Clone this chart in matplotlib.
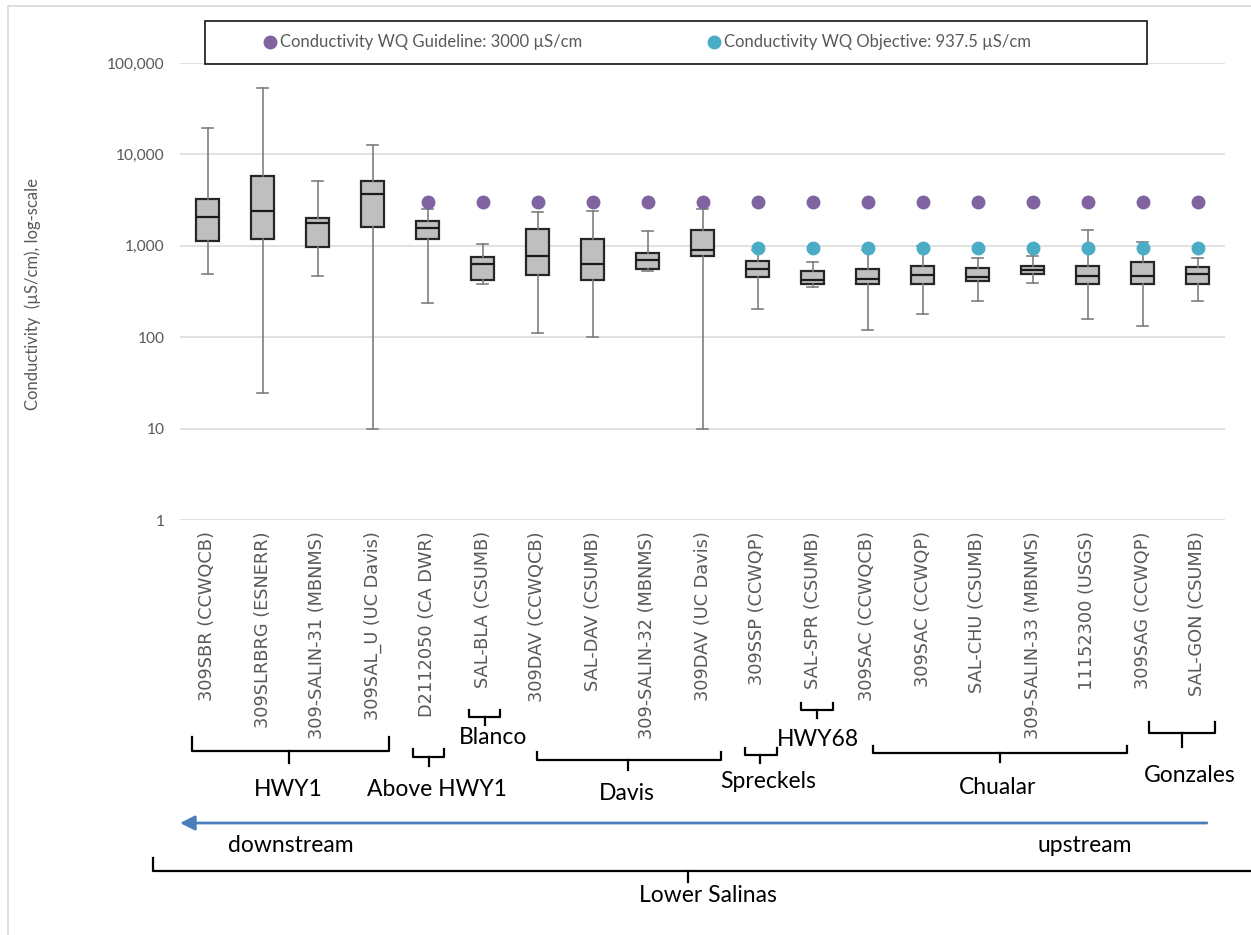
"""Lower Salinas conductivity box plots by monitoring site (log scale)."""

import matplotlib
matplotlib.use("Agg")
import matplotlib.pyplot as plt
import matplotlib.transforms as mtransforms
from matplotlib.lines import Line2D
from matplotlib.patches import Rectangle
import numpy as np

W, H = 1251, 935

SITES = [
    "309SBR (CCWQCB)", "309SLRBRG (ESNERR)", "309-SALIN-31 (MBNMS)", "309SAL_U (UC Davis)",
    "D2112050 (CA DWR)", "SAL-BLA (CSUMB)", "309DAV (CCWQCB)", "SAL-DAV (CSUMB)",
    "309-SALIN-32 (MBNMS)", "309DAV (UC Davis)", "309SSP (CCWQP)", "SAL-SPR (CSUMB)",
    "309SAC (CCWQCB)", "309SAC (CCWQP)", "SAL-CHU (CSUMB)", "309-SALIN-33 (MBNMS)",
    "11152300 (USGS)", "309SAG (CCWQP)", "SAL-GON (CSUMB)",
]
WHISKER_LOW = [496, 24.4, 467, 10, 234, 380, 110, 100, 530, 10,
               205, 354, 119, 178, 247, 388, 157, 131, 247]
Q1 = [1125, 1174, 967, 1618, 1194, 425, 479, 426, 563, 776,
      450, 385, 385, 385, 412, 490, 385, 385, 385]
MEDIAN = [2070, 2410, 1776, 3700, 1578, 634, 783, 634, 701, 911,
          560, 419, 436, 478, 455, 547, 467, 463, 490]
Q3 = [3240, 5750, 2000, 5100, 1885, 757, 1525, 1194, 837, 1487,
      690, 533, 552, 595, 570, 605, 605, 658, 590]
WHISKER_HIGH = [19600, 53000, 5100, 12700, 2530, 1052, 2350, 2410, 1438, 2550,
                900, 658, 900, 1000, 735, 776, 1488, 1088, 738]

NAN = np.nan
GUIDELINE = [NAN, NAN, NAN, NAN, 3000, 3000, 3000, 3000, 3000, 3000,
             3000, 3000, 3000, 3000, 3000, 3000, 3000, 3000, 3000]
OBJECTIVE = [NAN, NAN, NAN, NAN, NAN, NAN, NAN, NAN, NAN, NAN,
             937.5, 937.5, 937.5, 937.5, 937.5, 937.5, 937.5, 937.5, 937.5]

Y_TICKS = [1, 10, 100, 1000, 10000, 100000]
Y_TICK_LABELS = ["1", "10", "100", "1,000", "10,000", "100,000"]

# reach groups: name, bracket start, bracket end (category units)
GROUPS = [
    ("HWY1", -0.29, 3.30),
    ("Above HWY1", 3.74, 4.30),
    ("Blanco", 4.75, 5.32),
    ("Davis", 5.99, 9.34),
    ("Spreckels", 9.77, 10.35),
    ("HWY68", 10.79, 11.37),
    ("Chualar", 12.10, 16.72),
    ("Gonzales", 17.12, 18.32),
    ("Lower Salinas", -1.00, 19.00),
]
# bracket geometry in pixels from the top: end top, bar, tick bottom; tick x; label x, y
BRACKET_STYLE = {
    "HWY1": (737, 751, 763, 1.48, 1.46, 789),
    "Above HWY1": (749, 757, 766, 4.03, 4.17, 789),
    "Blanco": (710, 717, 725, 5.05, 5.19, 738),
    "Davis": (752, 760, 770, 7.65, 7.63, 794),
    "Spreckels": (748, 755, 763, 10.05, 10.19, 781),
    "HWY68": (703, 710, 718, 11.08, 11.10, 739),
    "Chualar": (746, 753, 762, 14.41, 14.37, 788),
    "Gonzales": (722, 733, 747, 17.72, 17.86, 775),
    "Lower Salinas": (858, 871, 882, 8.74, 9.10, 895),
}

PURPLE = "#8064a2"
TEAL = "#4bacc6"
GRAY_TXT = "#595959"
MAIN_FONT = "Lato"
GROUP_SIZE = 16.5


def fy(py):
    return 1 - py / H


def main():
    fig = plt.figure(figsize=(W / 100, H / 100), dpi=100)
    ax = fig.add_axes([180 / W, fy(520), 1045 / W, (520 - 63) / H])

    stats = []
    for i, name in enumerate(SITES):
        stats.append({
            "label": name, "whislo": WHISKER_LOW[i], "q1": Q1[i], "med": MEDIAN[i],
            "q3": Q3[i], "whishi": WHISKER_HIGH[i], "fliers": [],
        })
    pos = np.arange(len(SITES))
    ax.bxp(
        stats, positions=pos, widths=0.42, patch_artist=True, showfliers=False,
        boxprops=dict(facecolor="#bfbfbf", edgecolor="#262626", linewidth=1.6),
        medianprops=dict(color="#1a1a1a", linewidth=1.6),
        whiskerprops=dict(color="#7f7f7f", linewidth=1.2),
        capprops=dict(color="#7f7f7f", linewidth=1.2),
        capwidths=0.2, zorder=2,
    )

    ax.plot(pos, GUIDELINE, "o", color=PURPLE, markersize=9, linestyle="none", zorder=3)
    ax.plot(pos, OBJECTIVE, "o", color=TEAL, markersize=9, linestyle="none", zorder=3)

    ax.set_yscale("log")
    ax.set_ylim(1, 100000)
    ax.set_xlim(-0.5, len(SITES) - 0.5)
    ax.set_yticks(Y_TICKS)
    ax.set_yticklabels(Y_TICK_LABELS, fontsize=11.2, color=GRAY_TXT, family=MAIN_FONT)
    ax.yaxis.set_minor_locator(matplotlib.ticker.NullLocator())
    ax.set_xticks(pos)
    ax.set_xticklabels(SITES, rotation=90, fontsize=12.8, color=GRAY_TXT,
                       family="DejaVu Sans", va="top", ha="center")
    ax.tick_params(axis="y", length=0, pad=11)
    ax.tick_params(axis="x", length=0, pad=8)
    ax.grid(axis="y", color="#d9d9d9", linewidth=1.1)
    ax.set_axisbelow(True)
    for sp in ax.spines.values():
        sp.set_visible(False)

    fig.text(33 / W, fy(294), "Conductivity  (\u00b5S/cm), log-scale", rotation=90,
             ha="center", va="center", fontsize=12, color=GRAY_TXT, family=MAIN_FONT)

    # legend
    fig.add_artist(Rectangle((205 / W, fy(64)), (1147 - 205) / W, 43 / H,
                             transform=fig.transFigure, fill=False,
                             edgecolor="#262626", linewidth=1.3))
    handles = [
        Line2D([], [], marker="o", color=PURPLE, linestyle="none", markersize=9),
        Line2D([], [], marker="o", color=TEAL, linestyle="none", markersize=9),
    ]
    fig.legend(handles, ["Conductivity WQ Guideline: 3000 \u00b5S/cm",
                         "Conductivity WQ Objective: 937.5 \u00b5S/cm"],
               loc="center left", bbox_to_anchor=(260 / W, fy(42.5)), ncol=2,
               frameon=False, handletextpad=0.0, columnspacing=7.3, handlelength=1.2,
               prop={"family": MAIN_FONT, "size": 12}, labelcolor=GRAY_TXT,
               borderpad=0, borderaxespad=0)

    # reach brackets
    blend = mtransforms.blended_transform_factory(ax.transData, fig.transFigure)
    for name, x0, x1 in GROUPS:
        top, bar, tick_bot, tick_x, lab_x, lab_y = BRACKET_STYLE[name]
        fig.add_artist(Line2D([x0, x0, x1, x1], [fy(top), fy(bar), fy(bar), fy(top)],
                              transform=blend, color="black", linewidth=1.6))
        fig.add_artist(Line2D([tick_x, tick_x], [fy(bar), fy(tick_bot)],
                              transform=blend, color="black", linewidth=1.6))
        fig.text(lab_x, fy(lab_y), name, transform=blend, ha="center", va="center",
                 fontsize=GROUP_SIZE, color="black", family=MAIN_FONT)

    # flow direction arrow
    ax.annotate("", xy=(-0.5, fy(823)), xytext=(18.17, fy(823)),
                xycoords=blend, textcoords=blend,
                arrowprops=dict(arrowstyle="-|>", color="#4a7ebb", lw=2.0,
                                mutation_scale=22, shrinkA=0, shrinkB=0))
    fig.text(1.52, fy(845), "downstream", transform=blend, ha="center", va="center",
             fontsize=GROUP_SIZE, color="black", family=MAIN_FONT)
    fig.text(15.95, fy(845), "upstream", transform=blend, ha="center", va="center",
             fontsize=GROUP_SIZE, color="black", family=MAIN_FONT)

    # chart area border
    fig.add_artist(Line2D([8 / W, 8 / W, 1], [0, fy(6), fy(6)],
                          transform=fig.transFigure, color="#d9d9d9", linewidth=1.2))

    fig.savefig("out.png", dpi=100)
    plt.close(fig)


if __name__ == "__main__":
    main()
